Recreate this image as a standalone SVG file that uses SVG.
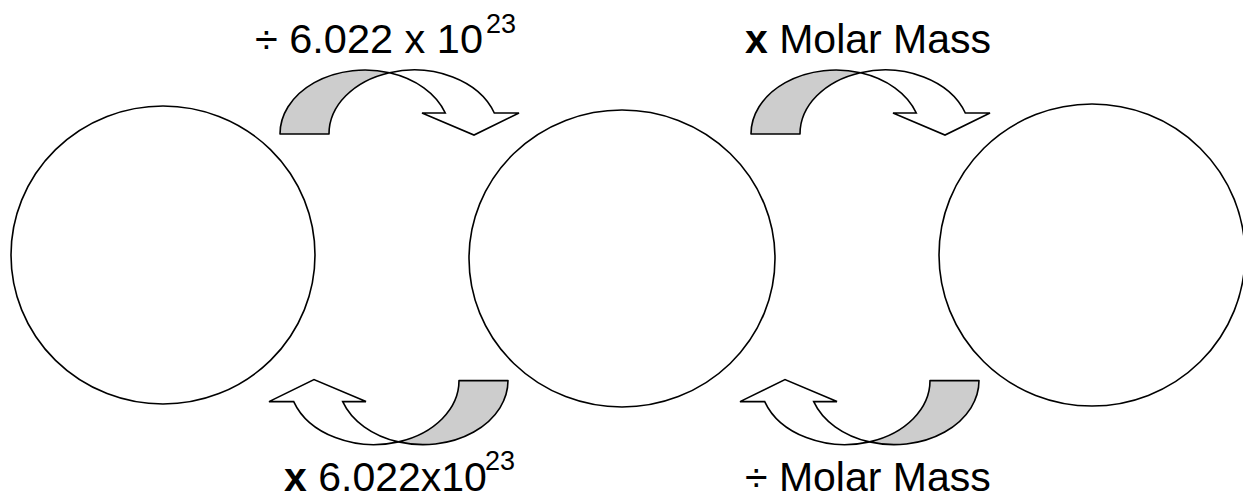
<svg xmlns="http://www.w3.org/2000/svg" xmlns:xlink="http://www.w3.org/1999/xlink" width="1243" height="498" viewBox="0 0 1243 498">
  <style>
    .circle { fill: #ffffff; stroke: #000000; stroke-width: 1.6; }
    .band-back { fill: #cdcdcd; stroke: #000000; stroke-width: 1.6; stroke-linejoin: round; }
    .band-front { fill: #ffffff; stroke: #000000; stroke-width: 1.6; stroke-linejoin: miter; }
    .label { font-family: "Liberation Sans", Arial, sans-serif; font-size: 41px; fill: #000000; }
    .sup { font-size: 27px; }
    .bold { font-weight: bold; }
  </style>
  <defs>
    <g id="curved-arrow">
      <path class="band-back" d="M280,134 A85,64 0 0 1 389.5,72.7 A85,64 0 0 0 329,134 Z"/>
      <path class="band-front" d="M389.5,72.7 A85,64 0 0 1 494.3,113 L519,113 L474,135 L422,113 L445.3,113 A85,64 0 0 0 389.5,72.7 Z"/>
    </g>
  </defs>
  <rect width="1243" height="498" fill="#ffffff"/>

  <g id="node-left">
    <ellipse class="circle" cx="163" cy="255" rx="152" ry="149"/>
  </g>
  <g id="node-middle">
    <ellipse class="circle" cx="622" cy="258.5" rx="153" ry="148.5"/>
  </g>
  <g id="node-right">
    <ellipse class="circle" cx="1092" cy="255" rx="153" ry="151"/>
  </g>

  <g id="connectors">
    <use xlink:href="#curved-arrow" href="#curved-arrow"/>
    <use xlink:href="#curved-arrow" href="#curved-arrow" transform="translate(471,0)"/>
    <use xlink:href="#curved-arrow" href="#curved-arrow" transform="translate(788,514.6) rotate(180)"/>
    <use xlink:href="#curved-arrow" href="#curved-arrow" transform="translate(1259,514.6) rotate(180)"/>
  </g>

  <g id="labels">
    <text class="label" x="255" y="53"><tspan textLength="228" lengthAdjust="spacingAndGlyphs">÷ 6.022 x 10</tspan><tspan class="sup" x="486" y="33">23</tspan></text>
    <text class="label" x="745" y="53"><tspan class="bold">x</tspan> Molar Mass</text>
    <text class="label" x="284" y="491"><tspan class="bold">x</tspan> 6.022x10<tspan class="sup" x="485" y="470">23</tspan></text>
    <text class="label" x="745" y="491">÷ Molar Mass</text>
  </g>
</svg>
